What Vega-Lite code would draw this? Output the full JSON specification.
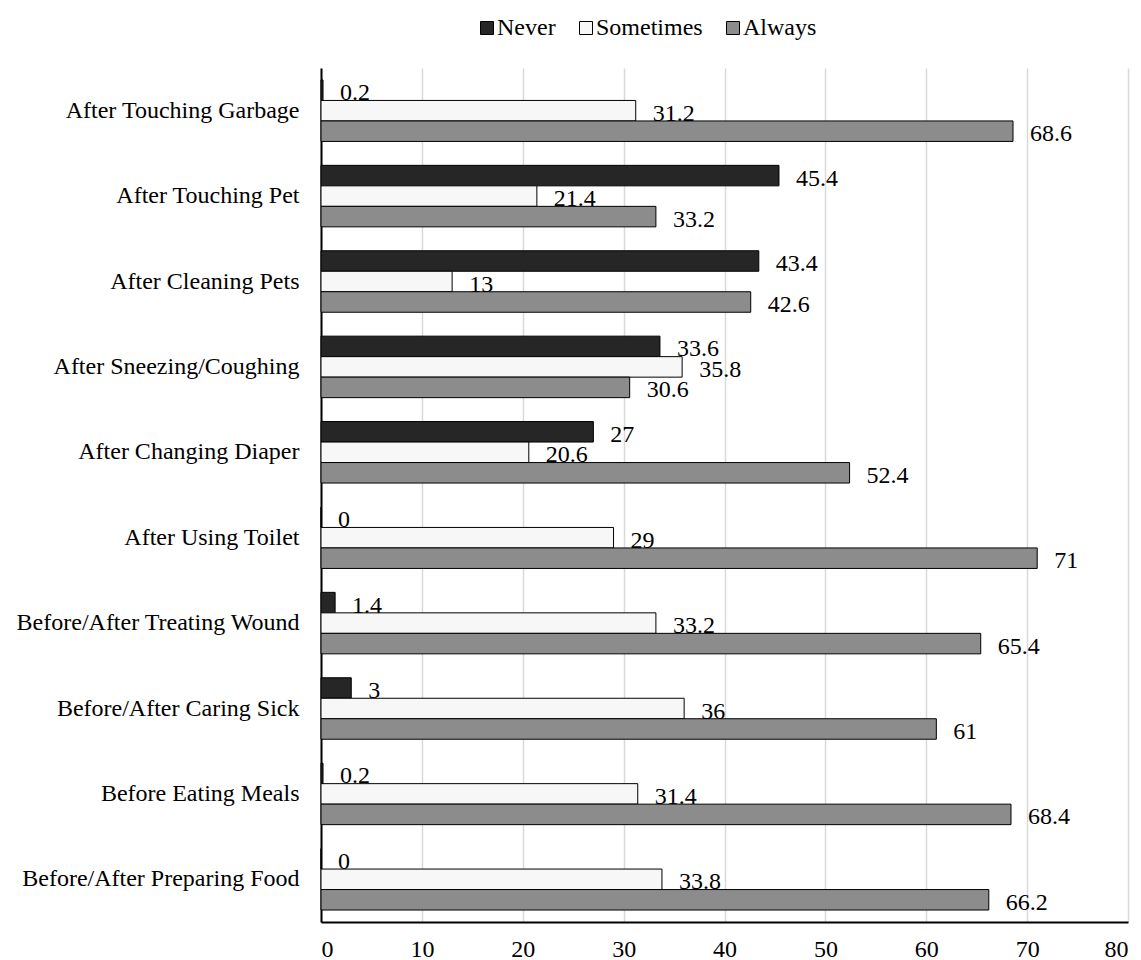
{
  "$schema": "https://vega.github.io/schema/vega-lite/v6.json",
  "width": 807,
  "height": 854,
  "autosize": {"type": "none"},
  "padding": {"left": 321, "top": 68, "right": 13, "bottom": 38},
  "config": {
    "font": "Liberation Serif",
    "view": {"stroke": null},
    "axis": {"labelFont": "Liberation Serif", "labelFontSize": 24, "labelColor": "#000000", "labelLimit": 0},
    "legend": {"labelFont": "Liberation Serif", "labelFontSize": 24, "labelColor": "#000000", "labelLimit": 0}
  },
  "data": {
    "values": [
      {"cat": "After Touching Garbage", "series": "Never", "value": 0.2},
      {"cat": "After Touching Garbage", "series": "Sometimes", "value": 31.2},
      {"cat": "After Touching Garbage", "series": "Always", "value": 68.6},
      {"cat": "After Touching Pet", "series": "Never", "value": 45.4},
      {"cat": "After Touching Pet", "series": "Sometimes", "value": 21.4},
      {"cat": "After Touching Pet", "series": "Always", "value": 33.2},
      {"cat": "After Cleaning Pets", "series": "Never", "value": 43.4},
      {"cat": "After Cleaning Pets", "series": "Sometimes", "value": 13},
      {"cat": "After Cleaning Pets", "series": "Always", "value": 42.6},
      {"cat": "After Sneezing/Coughing", "series": "Never", "value": 33.6},
      {"cat": "After Sneezing/Coughing", "series": "Sometimes", "value": 35.8},
      {"cat": "After Sneezing/Coughing", "series": "Always", "value": 30.6},
      {"cat": "After Changing Diaper", "series": "Never", "value": 27},
      {"cat": "After Changing Diaper", "series": "Sometimes", "value": 20.6},
      {"cat": "After Changing Diaper", "series": "Always", "value": 52.4},
      {"cat": "After Using Toilet", "series": "Never", "value": 0},
      {"cat": "After Using Toilet", "series": "Sometimes", "value": 29},
      {"cat": "After Using Toilet", "series": "Always", "value": 71},
      {"cat": "Before/After Treating Wound", "series": "Never", "value": 1.4},
      {"cat": "Before/After Treating Wound", "series": "Sometimes", "value": 33.2},
      {"cat": "Before/After Treating Wound", "series": "Always", "value": 65.4},
      {"cat": "Before/After Caring Sick", "series": "Never", "value": 3},
      {"cat": "Before/After Caring Sick", "series": "Sometimes", "value": 36},
      {"cat": "Before/After Caring Sick", "series": "Always", "value": 61},
      {"cat": "Before Eating Meals", "series": "Never", "value": 0.2},
      {"cat": "Before Eating Meals", "series": "Sometimes", "value": 31.4},
      {"cat": "Before Eating Meals", "series": "Always", "value": 68.4},
      {"cat": "Before/After Preparing Food", "series": "Never", "value": 0},
      {"cat": "Before/After Preparing Food", "series": "Sometimes", "value": 33.8},
      {"cat": "Before/After Preparing Food", "series": "Always", "value": 66.2}
    ]
  },
  "encoding": {
    "y": {
      "field": "cat",
      "type": "nominal",
      "sort": null,
      "scale": {"paddingInner": 0.28, "paddingOuter": 0.14},
      "axis": {
        "title": null,
        "ticks": false,
        "tickSize": 0,
        "labelPadding": 22,
        "domainColor": "#000000",
        "domainWidth": 2,
        "grid": false
      }
    },
    "yOffset": {
      "field": "series",
      "type": "nominal",
      "sort": ["Never", "Sometimes", "Always"],
      "scale": {"paddingInner": 0, "paddingOuter": 0}
    },
    "x": {
      "field": "value",
      "type": "quantitative",
      "scale": {"domain": [0, 80], "nice": false},
      "axis": {
        "title": null,
        "values": [0, 10, 20, 30, 40, 50, 60, 70, 80],
        "ticks": false,
        "tickSize": 0,
        "labelPadding": 15,
        "domainColor": "#000000",
        "domainWidth": 2,
        "grid": true,
        "gridColor": "#d9d9d9",
        "gridWidth": 1.5
      }
    }
  },
  "layer": [
    {
      "mark": {"type": "bar", "stroke": "#000000", "strokeWidth": 1},
      "encoding": {
        "fill": {
          "field": "series",
          "type": "nominal",
          "sort": ["Never", "Sometimes", "Always"],
          "scale": {"domain": ["Never", "Sometimes", "Always"], "range": ["#262626", "#f7f7f7", "#8c8c8c"]},
          "legend": {
            "title": null,
            "orient": "none",
            "direction": "horizontal",
            "columns": 3,
            "legendX": 154,
            "legendY": -52,
            "symbolType": "square",
            "symbolSize": 169,
            "symbolStrokeColor": "#000000",
            "symbolStrokeWidth": 1,
            "labelOffset": -2,
            "columnPadding": 18
          }
        }
      }
    },
    {
      "mark": {"type": "text", "align": "left", "baseline": "alphabetic", "dx": 17, "dy": 10, "fontSize": 24, "font": "Liberation Serif", "color": "#000000"},
      "encoding": {
        "text": {"field": "value", "type": "quantitative", "format": ""}
      }
    }
  ]
}
